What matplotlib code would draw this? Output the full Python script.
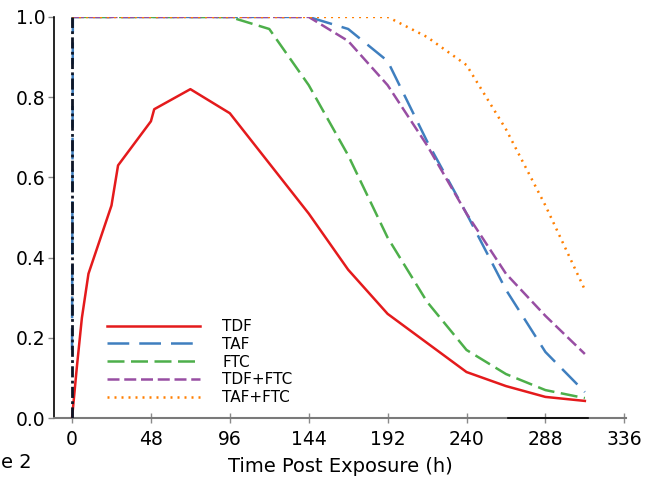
import matplotlib
matplotlib.use("Agg")
import matplotlib.pyplot as plt

plt.rcParams['font.family'] = ['DejaVu Sans']

# ---- data ----
tdf_x = [0, 3, 6, 10, 24, 28, 48, 50, 72, 96, 144, 168, 192, 240, 264, 288, 312]
tdf_y = [0, 0.13, 0.25, 0.36, 0.53, 0.63, 0.74, 0.77, 0.82, 0.76, 0.51, 0.37, 0.26, 0.115, 0.08, 0.053, 0.043]

taf_x = [0, 0.5, 144, 168, 192, 216, 240, 264, 288, 312]
taf_y = [0.17, 1.0, 1.0, 0.97, 0.89, 0.69, 0.51, 0.32, 0.165, 0.065]

ftc_x = [0, 96, 120, 144, 168, 192, 216, 240, 264, 288, 312]
ftc_y = [1.0, 1.0, 0.97, 0.83, 0.655, 0.45, 0.29, 0.17, 0.11, 0.07, 0.05]

tdfftc_x = [0, 144, 168, 192, 216, 240, 264, 288, 312]
tdfftc_y = [1.0, 1.0, 0.94, 0.83, 0.68, 0.51, 0.36, 0.255, 0.16]

tafftc_x = [0, 192, 216, 240, 264, 288, 312]
tafftc_y = [1.0, 1.0, 0.95, 0.88, 0.72, 0.53, 0.32]

onset_x = [0, 0]
onset_y = [0, 1.0]

xticks = [0, 48, 96, 144, 192, 240, 288, 336]
yticks = [0.0, 0.2, 0.4, 0.6, 0.8, 1.0]
ytick_labels = ['0.0', '0.2', '0.4', '0.6', '0.8', '1.0']

# ---- figure ----
fig = plt.figure(figsize=(6.5, 4.84), dpi=100)
ax = fig.add_axes([0.083, 0.136, 0.880, 0.829])

lw = 1.8
ax.plot(taf_x, taf_y, color='#3f7fbf', lw=lw, ls=(0, (8.7, 4)), label='TAF', zorder=3)
ax.plot(ftc_x, ftc_y, color='#4daf4a', lw=lw, ls=(0, (6.8, 2.6)), label='FTC', zorder=3)
ax.plot(tdfftc_x, tdfftc_y, color='#984ea3', lw=lw, ls=(0, (4.8, 1.9)), label='TDF+FTC', zorder=3)
ax.plot(tafftc_x, tafftc_y, color='#ff7f00', lw=lw, ls=(0, (0.8, 2.0)), label='TAF+FTC', zorder=4)
ax.plot(tdf_x, tdf_y, color='#e41a1c', lw=lw, ls='-', label='TDF', zorder=5)
ax.plot(onset_x, onset_y, color='#0d1526', lw=2.0, ls=(0, (4, 1.2, 1, 1.2)), zorder=6)

ax.set_xlim(-11, 337)
ax.set_ylim(0, 1.0)
ax.set_xticks(xticks)
ax.set_yticks(yticks)
ax.set_yticklabels(ytick_labels)

for s in ['top', 'right']:
    ax.spines[s].set_visible(False)
ax.spines['left'].set_color('black')
ax.spines['left'].set_linewidth(1.2)
ax.spines['bottom'].set_color('#7a7a7a')
ax.spines['bottom'].set_linewidth(1.5)
ax.axhline(0, xmin=0.794, xmax=0.934, color='black', lw=1.2, clip_on=False, zorder=7)

ax.tick_params(axis='x', direction='inout', length=7, width=1.0, color='#8a8a8a',
               labelsize=13.5, pad=5)
ax.tick_params(axis='y', direction='out', length=4, width=1.0, color='#8a8a8a',
               labelsize=13.5, pad=2)

ax.set_xlabel('Time Post Exposure (h)', fontsize=14, labelpad=6)

handles, labels = ax.get_legend_handles_labels()
order = ['TDF', 'TAF', 'FTC', 'TDF+FTC', 'TAF+FTC']
hl = dict(zip(labels, handles))
ax.legend([hl[k] for k in order], order, loc='upper left',
          bbox_to_anchor=(0.093, 0.247), frameon=False, fontsize=11,
          handlelength=6.1, handletextpad=1.45, labelspacing=0.18,
          borderpad=0, borderaxespad=0)

fig.text(0.001, 0.025, 'e 2', fontsize=14, ha='left', va='bottom')

fig.savefig('out.png', dpi=100)
